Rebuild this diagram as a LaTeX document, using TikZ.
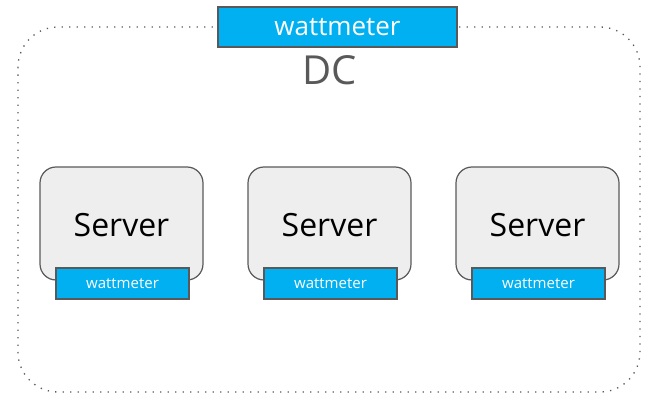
\documentclass[tikz,border=0pt]{standalone}
\usepackage{fontspec}
\setmainfont{Open Sans}
\usetikzlibrary{positioning}
\definecolor{MeterBlue}{HTML}{00B0F0}
\definecolor{EdgeGray}{HTML}{595959}
\definecolor{BoxGray}{HTML}{EEEEEE}

\begin{document}
\begin{tikzpicture}[
    x=1pt, y=-1pt,
    dcbox/.style={draw=EdgeGray, line width=1.3pt, dash pattern=on 1.3pt off 6.2pt, rounded corners=40pt},
    server/.style={rectangle, rounded corners=16pt, draw=EdgeGray, line width=1.2pt, fill=BoxGray, minimum width=163pt, minimum height=113pt, font=\fontsize{32}{36}\selectfont},
    meter/.style={rectangle, draw=EdgeGray, line width=1.2pt, fill=MeterBlue, text=white, inner sep=0pt},
    bigmeter/.style={meter, minimum width=239pt, minimum height=40pt, font=\fontsize{26}{28}\selectfont},
    smallmeter/.style={meter, minimum width=133pt, minimum height=31pt, font=\fontsize{15}{17}\selectfont}
  ]
    \useasboundingbox (0,0) rectangle (645,396);
    \draw[dcbox] (18,27) rectangle (640,392);
    \node[bigmeter] (dcmeter) at (337.5,27) {wattmeter};
    \node[text=EdgeGray, font=\fontsize{40}{44}\selectfont] (dc) at (330,70) {DC};
    \node[server] (s1) at (121.5,223.5) {\raisebox{-13pt}[0pt][0pt]{Server}};
    \node[server] (s2) at (329.5,223.5) {\raisebox{-13pt}[0pt][0pt]{Server}};
    \node[server] (s3) at (537.5,223.5) {\raisebox{-13pt}[0pt][0pt]{Server}};
    \node[smallmeter] (m1) at (122.5,283.5) {wattmeter};
    \node[smallmeter] (m2) at (330.5,283.5) {wattmeter};
    \node[smallmeter] (m3) at (538.5,283.5) {wattmeter};
\end{tikzpicture}
\end{document}
